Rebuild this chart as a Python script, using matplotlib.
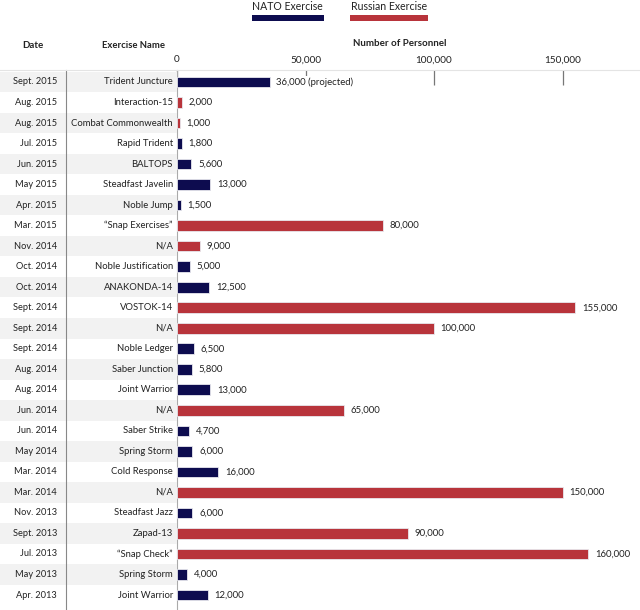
import matplotlib.pyplot as plt
from matplotlib.patches import Rectangle
from matplotlib.lines import Line2D
from matplotlib.transforms import blended_transform_factory

dates = ["Sept. 2015", "Aug. 2015", "Aug. 2015", "Jul. 2015", "Jun. 2015", "May 2015",
         "Apr. 2015", "Mar. 2015", "Nov. 2014", "Oct. 2014", "Oct. 2014", "Sept. 2014",
         "Sept. 2014", "Sept. 2014", "Aug. 2014", "Aug. 2014", "Jun. 2014", "Jun. 2014",
         "May 2014", "Mar. 2014", "Mar. 2014", "Nov. 2013", "Sept. 2013", "Jul. 2013",
         "May 2013", "Apr. 2013"]
names = ["Trident Juncture", "Interaction-15", "Combat Commonwealth", "Rapid Trident",
         "BALTOPS", "Steadfast Javelin", "Noble Jump", "\u201cSnap Exercises\u201d", "N/A",
         "Noble Justification", "ANAKONDA-14", "VOSTOK-14", "N/A", "Noble Ledger",
         "Saber Junction", "Joint Warrior", "N/A", "Saber Strike", "Spring Storm",
         "Cold Response", "N/A", "Steadfast Jazz", "Zapad-13", "\u201cSnap Check\u201d",
         "Spring Storm", "Joint Warrior"]
personnel = [36000, 2000, 1000, 1800, 5600, 13000, 1500, 80000, 9000, 5000, 12500,
             155000, 100000, 6500, 5800, 13000, 65000, 4700, 6000, 16000, 150000,
             6000, 90000, 160000, 4000, 12000]
side = ["NATO", "Russia", "Russia", "NATO", "NATO", "NATO", "NATO", "Russia", "Russia",
        "NATO", "NATO", "Russia", "Russia", "NATO", "NATO", "NATO", "Russia", "NATO",
        "NATO", "NATO", "Russia", "NATO", "Russia", "Russia", "NATO", "NATO"]
notes = {0: " (projected)"}

NAVY = "#0d0c4f"
RED = "#b8343b"
TXT = "#222222"
W, H = 640, 610

plt.rcParams['font.family'] = ['Lato', 'DejaVu Sans']
plt.rcParams['font.size'] = 7

fig = plt.figure(figsize=(6.4, 6.1), dpi=100)


def fx(px):
    return px / W


def fy(py):
    return 1 - py / H


n = len(personnel)
step = 20.52
y_top = 70
y0 = -(82 - y_top) / step
y1 = (H - y_top) / step + y0

ax = fig.add_axes([fx(177), 0, 1 - fx(177), fy(y_top)])
ax.set_xlim(0, 180150)
ax.set_ylim(y1, y0)

rows = list(range(n))
colors = [NAVY if s == "NATO" else RED for s in side]
ax.barh(rows, personnel, height=0.52, color=colors, edgecolor="#e8e8ee", linewidth=0.6, zorder=3)

for i, v in enumerate(personnel):
    ax.text(v + 2600, i, f"{v:,}" + notes.get(i, ""), va="center", ha="left",
            color=TXT, fontsize=6.9, zorder=4,
            bbox=dict(facecolor="white", edgecolor="none", pad=1.0))

ax.xaxis.tick_top()
ax.set_xticks([0, 50000, 100000, 150000])
ax.set_xticklabels(["0", "50,000", "100,000", "150,000"], color=TXT, fontsize=7.2)
ax.tick_params(axis="x", direction="in", length=11, width=0.9, color="#777777", pad=4)
ax.set_yticks([])
for sp in ["top", "right", "bottom"]:
    ax.spines[sp].set_visible(False)
ax.spines["left"].set_color("#aaaaaa")
ax.spines["left"].set_linewidth(0.8)

# left columns: bands, dates and names
blend = blended_transform_factory(fig.transFigure, ax.transData)
for i in rows:
    if i % 2 == 0:
        fig.patches.append(Rectangle((0, i - 0.5), fx(177), 1.0, transform=blend,
                                     facecolor="#f2f2f2", edgecolor="none", zorder=0))
    fig.text(fx(57), i, dates[i], transform=blend, ha="right", va="center",
             color=TXT, fontsize=6.7)
    fig.text(fx(173), i, names[i], transform=blend, ha="right", va="center",
             color=TXT, fontsize=6.8)

fig.add_artist(Line2D([fx(66), fx(66)], [0, fy(y_top)], transform=fig.transFigure,
                      color="#888888", linewidth=0.8))
fig.add_artist(Line2D([0, 1], [fy(y_top), fy(y_top)], transform=fig.transFigure,
                      color="#e4e4e4", linewidth=0.8))

# headers
fig.text(fx(33), fy(45), "Date", ha="center", va="center", fontweight="bold", fontsize=7.0, color=TXT)
fig.text(fx(133), fy(45), "Exercise Name", ha="center", va="center", fontweight="bold", fontsize=6.8, color=TXT)
fig.text(fx(400), fy(44), "Number of Personnel", ha="center", va="center", fontweight="bold", fontsize=7.0, color=TXT)

# legend
fig.text(fx(287), fy(7), "NATO Exercise", ha="center", va="center", fontsize=7.6, color=TXT)
fig.patches.append(Rectangle((fx(252), fy(21)), fx(72), 6 / H, transform=fig.transFigure,
                             facecolor=NAVY, edgecolor="none"))
fig.text(fx(389), fy(7), "Russian Exercise", ha="center", va="center", fontsize=7.6, color=TXT)
fig.patches.append(Rectangle((fx(350), fy(21)), fx(78), 6 / H, transform=fig.transFigure,
                             facecolor=RED, edgecolor="none"))

plt.savefig("out.png", dpi=100)
plt.close()
